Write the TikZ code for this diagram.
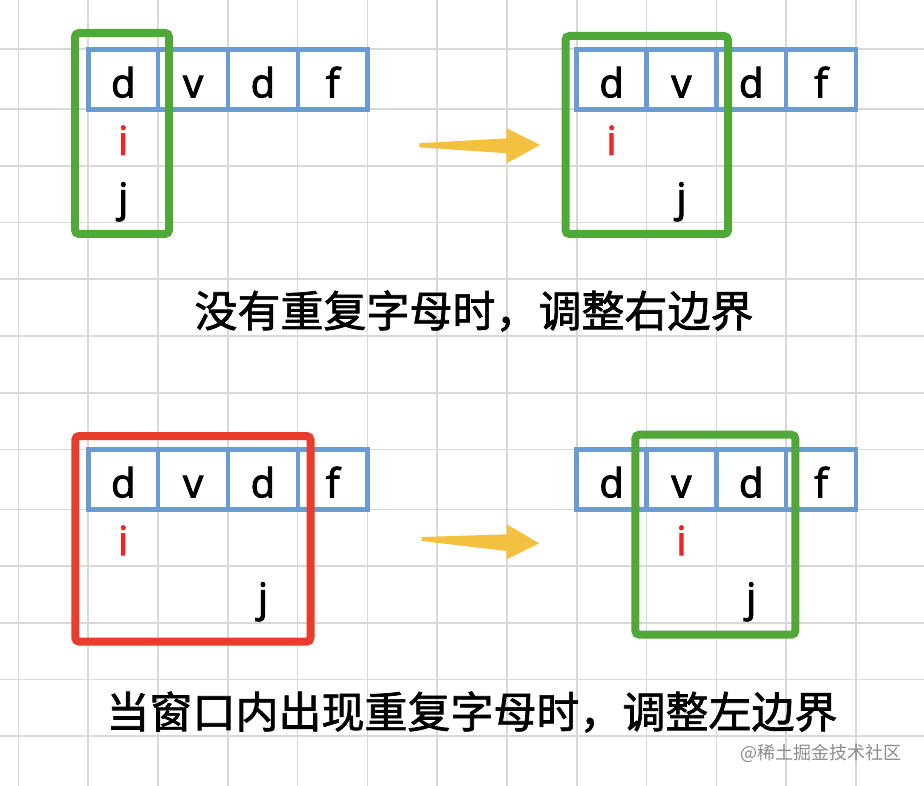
\documentclass[tikz,border=0pt]{standalone}
\usepackage{fontspec}
\setmainfont{Open Sans}[RawFeature={embolden=2.5}]
\newfontfamily\cjk{Noto Sans CJK SC}[RawFeature={embolden=1.6}]
\newfontfamily\cjkmark{Noto Sans CJK SC}
\definecolor{gridgray}{RGB}{216,216,216}
\definecolor{cellblue}{RGB}{106,155,210}
\definecolor{wingreen}{RGB}{80,168,56}
\definecolor{winred}{RGB}{232,60,44}
\definecolor{arrowyellow}{RGB}{244,192,64}
\definecolor{ired}{RGB}{240,36,36}
\definecolor{markgray}{RGB}{140,140,140}
\tikzset{
  gridline/.style={draw=gridgray, line width=1.6pt},
  cell/.style={draw=cellblue, line width=4.5pt, minimum width=69.8pt, minimum height=60pt,
    inner sep=0pt, font=\fontsize{40}{40}\selectfont, text height=36pt, text depth=0pt},
  ptr/.style={anchor=base, inner sep=0pt, font=\fontsize{40}{40}\selectfont},
  ptri/.style={ptr, text=ired},
  winbox/.style={draw=#1, line width=8pt, rounded corners=4pt},
  fatarrow/.style={fill=arrowyellow, draw=none},
  caption/.style={font=\cjk\fontsize{43}{43}\selectfont, inner sep=0pt},
  wmark/.style={font=\cjkmark\fontsize{18}{18}\selectfont, text=markgray, inner sep=0pt}
}
\begin{document}
\begin{tikzpicture}[x=1pt,y=-1pt]
\useasboundingbox[fill=white] (0,0) rectangle (924,786);
% grid
\foreach \k in {0,...,12} \draw[gridline] ({18.4+69.8*\k},0) -- ({18.4+69.8*\k},786);
\foreach \yy in {49.3,109.3,166,222.7,279.3,336,392.7,449.3,509.3,566,622.7,679.3,736}
  \draw[gridline] (0,\yy) -- (924,\yy);

% ---------- top-left ----------
\node[cell] (tl1) at (123.3,79.3) {d};
\node[cell] (tl2) at (193.1,79.3) {v};
\node[cell] (tl3) at (262.9,79.3) {d};
\node[cell] (tl4) at (332.7,79.3) {f};
\node[ptri] (tli) at (123.3,155) {i};
\node[ptr] (tlj) at (123.3,211.7) {j};
\coordinate (g1a) at (75,33);
\coordinate (g1b) at (169,234);
\draw[winbox=wingreen] (g1a) rectangle (g1b);

% ---------- top-right ----------
\node[cell] (tr1) at (611.6,79.3) {d};
\node[cell] (tr2) at (681.4,79.3) {v};
\node[cell] (tr3) at (751.2,79.3) {d};
\node[cell] (tr4) at (821.0,79.3) {f};
\node[ptri] (tri) at (611.6,155) {i};
\node[ptr] (trj) at (681.4,211.7) {j};
\coordinate (g2a) at (565.5,36);
\coordinate (g2b) at (728,234);
\draw[winbox=wingreen] (g2a) rectangle (g2b);

% top arrow
\fill[fatarrow] (419.3,143.3) -- (506.7,138.3) -- (506.7,128.3) -- (540,145)
  -- (506.7,163.3) -- (506.7,153.3) -- (419.3,147.3) -- cycle;

% caption 1
\node[caption] (cap1) at (474,311) {没有重复字母时，调整右边界};

% ---------- bottom-left ----------
\node[cell] (bl1) at (123.3,479.3) {d};
\node[cell] (bl2) at (193.1,479.3) {v};
\node[cell] (bl3) at (262.9,479.3) {d};
\node[cell] (bl4) at (332.7,479.3) {f};
\node[ptri] (bli) at (123.3,555) {i};
\node[ptr] (blj) at (262.9,611.7) {j};
\coordinate (r1a) at (75.3,436);
\coordinate (r1b) at (310.5,641.7);
\draw[winbox=winred] (r1a) rectangle (r1b);

% ---------- bottom-right ----------
\node[cell] (br1) at (611.6,479.3) {d};
\node[cell] (br2) at (681.4,479.3) {v};
\node[cell] (br3) at (751.2,479.3) {d};
\node[cell] (br4) at (821.0,479.3) {f};
\node[ptri] (bri) at (681.4,555) {i};
\node[ptr] (brj) at (751.2,611.7) {j};
\coordinate (g3a) at (635.3,434.7);
\coordinate (g3b) at (795.3,634.7);
\draw[winbox=wingreen] (g3a) rectangle (g3b);

% bottom arrow
\fill[fatarrow] (421.7,537) -- (506.7,534.3) -- (506.7,524.3) -- (539.3,543.3)
  -- (506.7,559.3) -- (506.7,551) -- (421.7,541) -- cycle;

% caption 2
\node[caption] (cap2) at (472,712) {当窗口内出现重复字母时，调整左边界};

% watermark
\node[wmark] (wm) at (821,753) {@稀土掘金技术社区};
\end{tikzpicture}
\end{document}
